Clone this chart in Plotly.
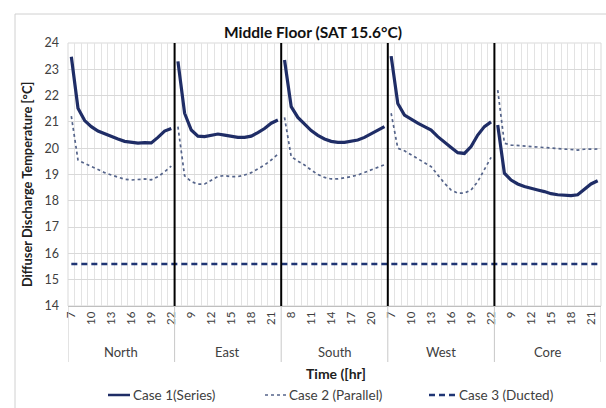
import plotly.graph_objects as go

# Hours simulated in each zone, and the zones along the category axis
hours = list(range(7, 23))
zones = ["North", "East", "South", "West", "Core"]

# Diffuser discharge temperature [°C] per zone, hour 7..22
case1_series = {
    "North": [23.48, 21.52, 21.05, 20.82, 20.65, 20.54, 20.44, 20.35, 20.26, 20.21, 20.19, 20.21, 20.20, 20.41, 20.65, 20.75],
    "East":  [23.30, 21.33, 20.69, 20.46, 20.44, 20.50, 20.54, 20.50, 20.44, 20.41, 20.41, 20.46, 20.59, 20.75, 20.95, 21.07],
    "South": [23.35, 21.58, 21.17, 20.92, 20.67, 20.49, 20.35, 20.26, 20.22, 20.22, 20.27, 20.31, 20.41, 20.54, 20.69, 20.82],
    "West":  [23.50, 21.70, 21.26, 21.10, 20.95, 20.82, 20.69, 20.44, 20.22, 20.03, 19.83, 19.80, 20.06, 20.50, 20.82, 21.00],
    "Core":  [20.88, 19.05, 18.79, 18.64, 18.54, 18.46, 18.41, 18.35, 18.27, 18.23, 18.21, 18.20, 18.23, 18.44, 18.64, 18.76],
}
case2_parallel = {
    "North": [21.22, 19.55, 19.42, 19.30, 19.17, 19.07, 18.98, 18.89, 18.82, 18.79, 18.82, 18.83, 18.80, 18.92, 19.10, 19.32],
    "East":  [20.82, 18.95, 18.73, 18.63, 18.64, 18.79, 18.92, 18.96, 18.92, 18.92, 18.98, 19.07, 19.20, 19.36, 19.55, 19.77],
    "South": [21.17, 19.68, 19.51, 19.36, 19.17, 19.00, 18.89, 18.83, 18.83, 18.87, 18.92, 18.98, 19.07, 19.17, 19.27, 19.37],
    "West":  [21.33, 20.00, 19.90, 19.74, 19.58, 19.45, 19.30, 18.98, 18.67, 18.41, 18.29, 18.29, 18.41, 18.73, 19.17, 19.65],
    "Core":  [22.21, 20.19, 20.12, 20.10, 20.08, 20.06, 20.05, 20.02, 20.01, 20.00, 19.97, 19.96, 19.93, 19.96, 19.97, 19.97],
}
case3_ducted = 15.6  # ducted system delivers at the supply air temperature

series_names = ["Case 1(Series)", "Case 2 (Parallel)", "Case 3 (Ducted)"]

y_ticks = list(range(14, 25))
label_step = 3

n_h = len(hours)
n_cat = n_h * len(zones)

# Category positions, with a gap between zones so lines do not join
xs, y1, y2 = [], [], []
for z_i, z in enumerate(zones):
    for h_i in range(n_h):
        xs.append(z_i * n_h + h_i)
        y1.append(case1_series[z][h_i])
        y2.append(case2_parallel[z][h_i])
    xs.append(None)
    y1.append(None)
    y2.append(None)

x_all = list(range(n_cat))
y3 = [case3_ducted] * n_cat

tick_pos = list(range(0, n_cat, label_step))
tick_txt = [str(hours[i % n_h]) for i in tick_pos]

FONT = "Lato"
TXT = "#404040"

styles = [
    dict(color="#1f2d66", width=3.2),
    dict(color="#55648a", width=1.7, dash="dot"),
    dict(color="#1f3574", width=2.5, dash="6px,4px"),
]

fig = go.Figure()
fig.add_trace(go.Scatter(x=xs, y=y1, mode="lines", name=series_names[0],
                         line=styles[0], connectgaps=False))
fig.add_trace(go.Scatter(x=xs, y=y2, mode="lines", name=series_names[1],
                         line=styles[1], connectgaps=False))
fig.add_trace(go.Scatter(x=x_all, y=y3, mode="lines", name=series_names[2],
                         line=styles[2]))

W, H = 606, 408
L, R, T, B = 68, 601, 43, 306


def px(xp):
    return (xp - L) / (R - L)


def py(yp):
    return (B - yp) / (B - T)


shapes = []
# chart area frame
shapes.append(dict(type="rect", xref="paper", yref="paper",
                   x0=px(15), x1=px(620), y0=py(14), y1=py(430),
                   line=dict(color="#d0d0d0", width=1), layer="below"))
# plot area frame
shapes.append(dict(type="rect", xref="paper", yref="paper", x0=0, x1=1, y0=0, y1=1,
                   line=dict(color="#d9d9d9", width=1), layer="below"))
# zone separators inside the plot
for k in range(1, len(zones)):
    xb = k * n_h - 0.5
    shapes.append(dict(type="line", xref="x", yref="y", x0=xb, x1=xb,
                       y0=y_ticks[0], y1=y_ticks[-1],
                       line=dict(color="#000000", width=2)))
# group dividers of the two-level category axis
for k in range(len(zones) + 1):
    xb = k * n_h - 0.5
    shapes.append(dict(type="line", xref="x", yref="paper", x0=xb, x1=xb,
                       y0=0, y1=py(362), line=dict(color="#c8c8c8", width=1)))

annotations = []
for z_i, z in enumerate(zones):
    annotations.append(dict(x=z_i * n_h + (n_h - 1) / 2, y=py(352), xref="x", yref="paper",
                            xanchor="center", yanchor="middle",
                            text=z, showarrow=False, font=dict(family=FONT, size=13, color=TXT)))
annotations.append(dict(x=px(336), y=py(373), xref="paper", yref="paper",
                        xanchor="center", yanchor="middle",
                        text="<b>Time ([hr]</b>", showarrow=False,
                        font=dict(family=FONT, size=14, color="#202020")))
annotations.append(dict(x=px(27), y=py(185), xref="paper", yref="paper",
                        xanchor="center", yanchor="middle",
                        text="<b>Diffuser Discharge Temperature [°C]</b>", textangle=-90,
                        showarrow=False, font=dict(family=FONT, size=12.8, color="#202020")))
annotations.append(dict(x=px(313), y=py(32), xref="paper", yref="paper",
                        xanchor="center", yanchor="middle",
                        text="<b>Middle Floor (SAT 15.6°C)</b>", showarrow=False,
                        font=dict(family=FONT, size=15.5, color="#111111")))

# legend row: sample line then label for each series
leg_y = 395
leg_items = [(108, 130), (265, 286), (429, 456)]
for (x0, x1), name, st in zip(leg_items, series_names, styles):
    shapes.append(dict(type="line", xref="paper", yref="paper",
                       x0=px(x0), x1=px(x1), y0=py(leg_y), y1=py(leg_y),
                       line=dict(color=st["color"], width=min(st["width"], 2.5),
                                 dash=st.get("dash", "solid"))))
    annotations.append(dict(x=px(x1 + 1), y=py(leg_y), xref="paper", yref="paper",
                            xanchor="left", yanchor="middle", text=name, showarrow=False,
                            font=dict(family=FONT, size=13.5, color=TXT)))

fig.update_layout(
    width=W, height=H,
    margin=dict(l=L, r=W - R, t=T, b=H - B),
    paper_bgcolor="white", plot_bgcolor="white",
    showlegend=False,
    shapes=shapes, annotations=annotations,
    xaxis=dict(range=[-0.5, n_cat - 0.5], tickmode="array", tickvals=tick_pos, ticktext=tick_txt,
               tickangle=-90, showgrid=False, zeroline=False, showline=True,
               linecolor="#bfbfbf", linewidth=1, ticks="",
               tickfont=dict(family=FONT, size=11.5, color=TXT),
               minor=dict(tickmode="array", tickvals=[i - 0.5 for i in range(n_cat + 1)],
                          showgrid=True, gridcolor="#e3e3e3", gridwidth=1)),
    yaxis=dict(range=[y_ticks[0], y_ticks[-1]], tickmode="array", tickvals=y_ticks,
               showgrid=True, gridcolor="#d9d9d9", zeroline=False, showline=False, ticks="",
               ticklabelstandoff=8, tickfont=dict(family=FONT, size=12.5, color=TXT)),
)

fig.write_html("out.html")
